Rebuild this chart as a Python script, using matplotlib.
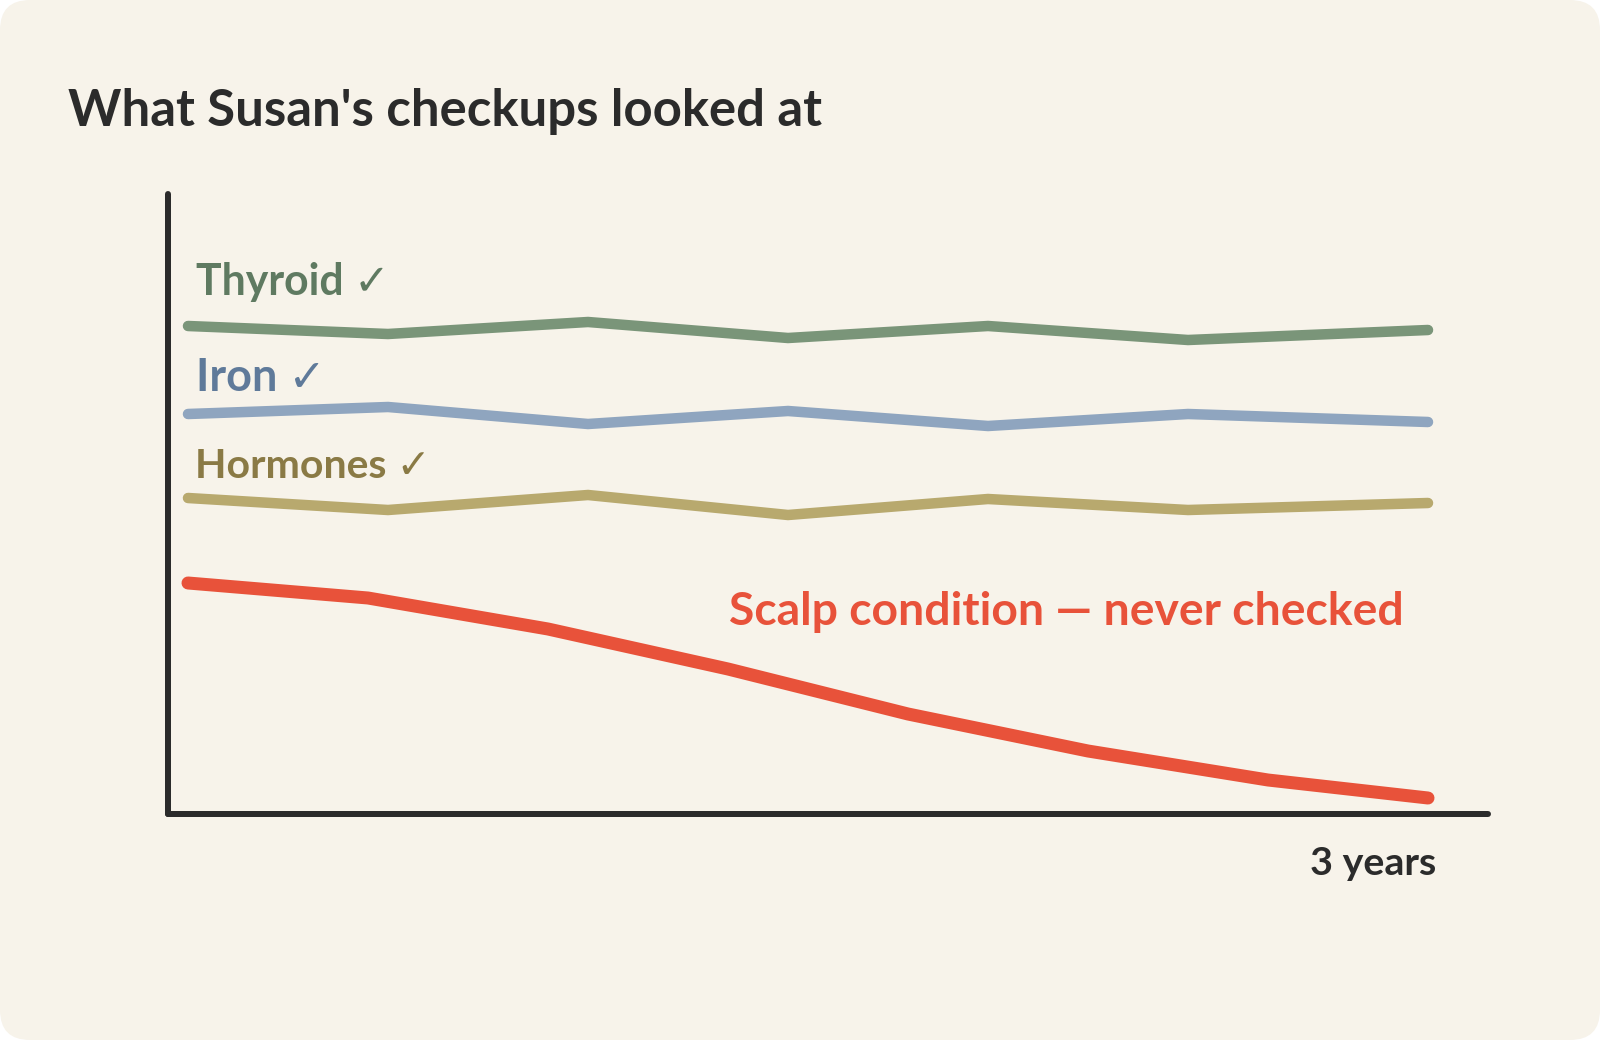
import matplotlib
matplotlib.use("Agg")
import matplotlib.pyplot as plt
from matplotlib.patches import FancyBboxPatch

FONT = ["Lato", "DejaVu Sans"]
W, H = 1600, 1040

# Horizontal position and height above the baseline, in chart units
check_x = [21, 221, 421, 621, 821, 1021, 1261]
thyroid = [488, 480, 492, 476, 488, 474, 484]
iron = [400, 407, 390, 403, 388, 400, 392]
hormones = [316, 304, 319, 299, 315, 304, 311]
scalp_x = [21, 201, 381, 561, 741, 921, 1101, 1261]
scalp = [231, 216, 185, 145, 100, 63, 34, 16]

labels = ["Thyroid ✓", "Iron ✓", "Hormones ✓"]
title = "What Susan's checkups looked at"
scalp_label = "Scalp condition — never checked"
x_label = "3 years"

INK = "#2B2B2B"
CARD = "#F7F3EA"


def lw(px):
    return px * 72 / 100


def fx(px):
    return px / W


def fy(py):
    return 1 - py / H


fig = plt.figure(figsize=(16, 10.4), dpi=100, facecolor="white")
fig.add_artist(FancyBboxPatch((0, 0), W, H, boxstyle="round,pad=0,rounding_size=30",
                              transform=None, fc=CARD, ec="none", zorder=-5))

# Chart area: the y axis is 1 px further right than the reference's data origin
ax = fig.add_axes([fx(168), fy(814), fx(1488) - fx(168), fy(194) - fy(814)])
ax.patch.set_alpha(0)
ax.set_xlim(1, 1321)
ax.set_ylim(0, 620)
ax.set_xticks([])
ax.set_yticks([])
for side in ("top", "right"):
    ax.spines[side].set_visible(False)
for side in ("left", "bottom"):
    ax.spines[side].set_linewidth(lw(6))
    ax.spines[side].set_color(INK)
    ax.spines[side].set_capstyle("round")

for vals, col in ((thyroid, "#7A9579"), (iron, "#8FA5BF"), (hormones, "#B8A96E")):
    ax.plot(check_x, vals, color=col, lw=lw(10.5), solid_capstyle="round",
            solid_joinstyle="miter", clip_on=False)
ax.plot(scalp_x, scalp, color="#E8523A", lw=lw(13), solid_capstyle="round",
        solid_joinstyle="round", clip_on=False)

fig.canvas.draw()
rend = fig.canvas.get_renderer()


def put(txt, left, right, base, color):
    t = fig.text(fx(left), fy(base), txt, color=color, family=FONT, weight="bold",
                 fontsize=20, ha="left", va="baseline")
    w = t.get_window_extent(rend).width
    t.set_fontsize(20 * (right - left) / w)
    return t


put(title, 68, 822, 126, INK)
put(labels[0], 196, 390, 295, "#5F7A61")
put(labels[1], 196, 326, 391, "#5F7A9A")
put(labels[2], 195, 430, 478, "#8A7A45")
put(scalp_label, 729, 1403, 625, "#E8523A")
put(x_label, 1310, 1436, 875, INK)

fig.savefig("out.png", dpi=100, facecolor="white")
